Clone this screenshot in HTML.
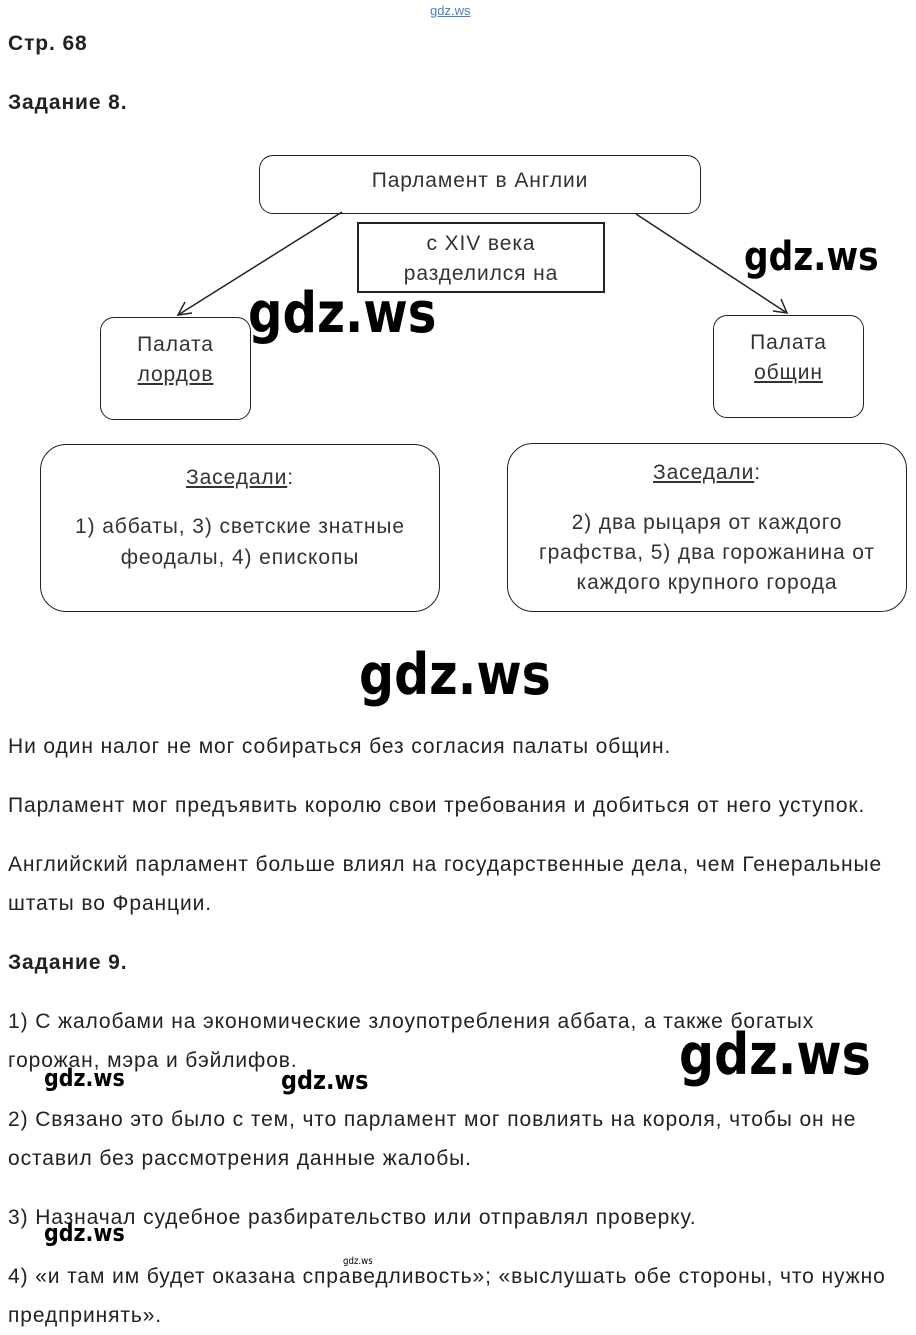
<!DOCTYPE html>
<html><head><meta charset="utf-8"><style>
body{margin:0;width:916px;height:1335px;background:#fff;position:relative;font-family:"Liberation Sans",sans-serif;color:#222;overflow:hidden}
.a{position:absolute;white-space:nowrap}
.t{font-size:21px;left:8px;line-height:39px;letter-spacing:0.9px}
.b{font-weight:bold;font-size:21px;left:8px;line-height:39px;letter-spacing:0.9px}
.box{position:absolute;border:1.5px solid #222;border-radius:14px;box-sizing:border-box;text-align:center;font-size:21px;letter-spacing:0.9px;color:#333;white-space:nowrap}
.w{position:absolute;font-family:"DejaVu Sans",sans-serif;font-weight:bold;color:#000;white-space:nowrap;transform-origin:0 0;transform:scaleX(0.86)}
u{text-decoration:underline}
</style></head><body>
<div class="a" style="left:430px;top:3px;font-size:13px;color:#4a7fc0;text-decoration:underline">gdz.ws</div>
<div class="a b" style="top:24px">Стр. 68</div>
<div class="a b" style="top:83px">Задание 8.</div>

<svg class="a" style="left:0;top:0" width="916" height="640">
<line x1="342" y1="212" x2="178" y2="315" stroke="#222" stroke-width="1.5"/>
<polyline points="185,302 178,315 192,313" fill="none" stroke="#222" stroke-width="1.5"/>
<line x1="636" y1="214" x2="787" y2="313" stroke="#222" stroke-width="1.5"/>
<polyline points="773,311 787,313 781,299" fill="none" stroke="#222" stroke-width="1.5"/>
</svg>
<div class="box" style="left:259px;top:155px;width:442px;height:59px;line-height:50px">Парламент в Англии</div>
<div class="box" style="left:357px;top:222px;width:248px;height:71px;border-radius:0;border-width:2px;line-height:30px;padding-top:5px">с XIV века<br>разделился на</div>
<div class="box" style="left:100px;top:317px;width:151px;height:103px;line-height:30px;padding-top:12px">Палата<br><u>лордов</u></div>
<div class="box" style="left:713px;top:315px;width:151px;height:103px;line-height:30px;padding-top:12px">Палата<br><u>общин</u></div>
<div class="box" style="left:40px;top:444px;width:400px;height:168px;border-radius:26px;line-height:31px;padding-top:17px"><u>Заседали</u>:<div style="height:18px"></div>1) аббаты, 3) светские знатные<br>феодалы, 4) епископы</div>
<div class="box" style="left:507px;top:443px;width:400px;height:169px;border-radius:26px;line-height:30px;padding-top:14px"><u>Заседали</u>:<div style="height:20px"></div>2) два рыцаря от каждого<br>графства, 5) два горожанина от<br>каждого крупного города</div>

<div class="a t" style="top:727px">Ни один налог не мог собираться без согласия палаты общин.</div>
<div class="a t" style="top:786px">Парламент мог предъявить королю свои требования и добиться от него уступок.</div>
<div class="a t" style="top:845px">Английский парламент больше влиял на государственные дела, чем Генеральные<br>штаты во Франции.</div>
<div class="a b" style="top:943px">Задание 9.</div>
<div class="a t" style="top:1002px">1) С жалобами на экономические злоупотребления аббата, а также богатых<br>горожан, мэра и бэйлифов.</div>
<div class="a t" style="top:1100px">2) Связано это было с тем, что парламент мог повлиять на короля, чтобы он не<br>оставил без рассмотрения данные жалобы.</div>
<div class="a t" style="top:1198px">3) Назначал судебное разбирательство или отправлял проверку.</div>
<div class="a t" style="top:1257px">4) «и там им будет оказана справедливость»; «выслушать обе стороны, что нужно<br>предпринять».</div>

<div class="w" style="left:248px;top:281px;font-size:56px">gdz.ws</div>
<div class="w" style="left:744px;top:234px;font-size:40px">gdz.ws</div>
<div class="w" style="left:359px;top:642px;font-size:57px">gdz.ws</div>
<div class="w" style="left:679px;top:1022px;font-size:57px">gdz.ws</div>
<div class="w" style="left:44px;top:1064px;font-size:24px">gdz.ws</div>
<div class="w" style="left:281px;top:1066px;font-size:26px">gdz.ws</div>
<div class="w" style="left:44px;top:1219px;font-size:24px">gdz.ws</div>
<div class="w" style="left:343px;top:1256px;font-size:10px;font-weight:normal">gdz.ws</div>
</body></html>
